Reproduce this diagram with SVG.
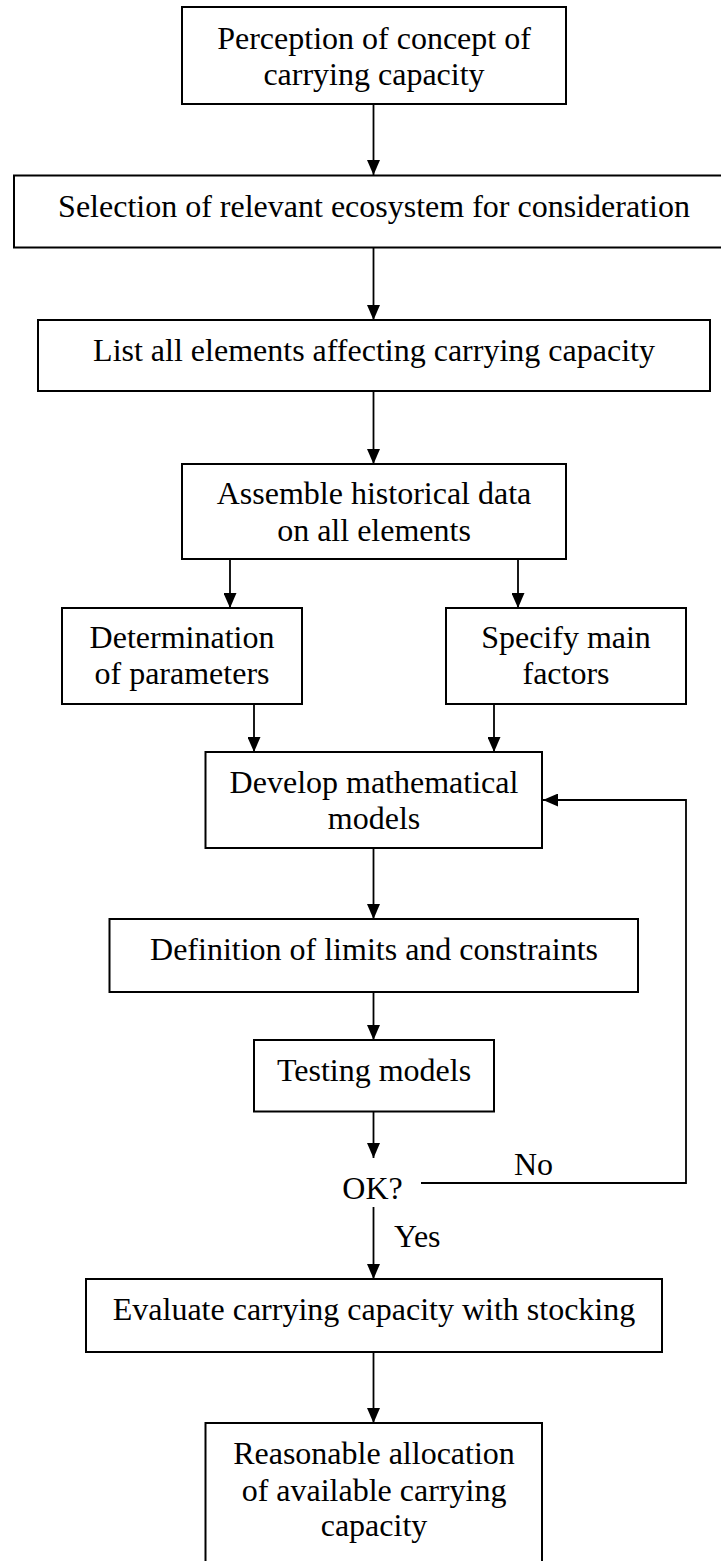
<svg xmlns="http://www.w3.org/2000/svg" width="721" height="1561" viewBox="0 0 721 1561">
<style>
.box{fill:#fff;stroke:#000;stroke-width:2}
.t{font-family:"Liberation Serif","Times New Roman",serif;font-size:32px;fill:#000;text-anchor:middle}
.tl{font-family:"Liberation Serif","Times New Roman",serif;font-size:32px;fill:#000}
.c{fill:none;stroke:#000;stroke-width:1.8}
</style>
<defs>
<marker id="ah" viewBox="0 0 15 13" refX="15" refY="6.5" markerWidth="15" markerHeight="13" markerUnits="userSpaceOnUse" orient="auto">
<path d="M0,0 L15,6.5 L0,13 Z" fill="#000"/>
</marker>
</defs>
<rect width="721" height="1561" fill="#fff"/>
<g id="connectors">
<line class="c" x1="373.5" y1="104" x2="373.5" y2="175" marker-end="url(#ah)"/>
<line class="c" x1="373.5" y1="248" x2="373.5" y2="320" marker-end="url(#ah)"/>
<line class="c" x1="373.5" y1="391" x2="373.5" y2="464" marker-end="url(#ah)"/>
<line class="c" x1="230" y1="559" x2="230" y2="608" marker-end="url(#ah)"/>
<line class="c" x1="518" y1="559" x2="518" y2="608" marker-end="url(#ah)"/>
<line class="c" x1="254" y1="704" x2="254" y2="752" marker-end="url(#ah)"/>
<line class="c" x1="494" y1="704" x2="494" y2="752" marker-end="url(#ah)"/>
<line class="c" x1="373.5" y1="848" x2="373.5" y2="919" marker-end="url(#ah)"/>
<line class="c" x1="373.5" y1="992" x2="373.5" y2="1040" marker-end="url(#ah)"/>
<line class="c" x1="373.5" y1="1112" x2="373.5" y2="1158" marker-end="url(#ah)"/>
<line class="c" x1="373.5" y1="1207" x2="373.5" y2="1279" marker-end="url(#ah)"/>
<line class="c" x1="373.5" y1="1352" x2="373.5" y2="1423" marker-end="url(#ah)"/>
<polyline class="c" points="421,1183 686,1183 686,800 543,800" marker-end="url(#ah)"/>
</g>
<g id="n1"><rect class="box" x="182" y="7" width="384" height="97"/>
<text class="t" x="374" y="49">Perception of concept of</text>
<text class="t" x="374" y="85">carrying capacity</text></g>
<g id="n2"><rect class="box" x="14" y="175.5" width="710" height="72"/>
<text class="t" x="374" y="217">Selection of relevant ecosystem for consideration</text></g>
<g id="n3"><rect class="box" x="38" y="320" width="672" height="71"/>
<text class="t" x="374" y="361">List all elements affecting carrying capacity</text></g>
<g id="n4"><rect class="box" x="182" y="464" width="384" height="95"/>
<text class="t" x="374" y="504">Assemble historical data</text>
<text class="t" x="374" y="541">on all elements</text></g>
<g id="n5"><rect class="box" x="62" y="608" width="240" height="96"/>
<text class="t" x="182" y="648">Determination</text>
<text class="t" x="182" y="684">of parameters</text></g>
<g id="n6"><rect class="box" x="446" y="608" width="240" height="96"/>
<text class="t" x="566" y="648">Specify main</text>
<text class="t" x="566" y="684">factors</text></g>
<g id="n7"><rect class="box" x="205.5" y="752" width="336.5" height="96"/>
<text class="t" x="374" y="793">Develop mathematical</text>
<text class="t" x="374" y="829">models</text></g>
<g id="n8"><rect class="box" x="109.5" y="919" width="528.5" height="73"/>
<text class="t" x="374" y="960">Definition of limits and constraints</text></g>
<g id="n9"><rect class="box" x="254" y="1040" width="240" height="71.5"/>
<text class="t" x="374" y="1080.5">Testing models</text></g>
<g id="n10"><text class="t" x="372.5" y="1199">OK?</text></g>
<g id="lbl-no"><text class="tl" x="514" y="1175">No</text></g>
<g id="lbl-yes"><text class="tl" x="394" y="1246.5">Yes</text></g>
<g id="n11"><rect class="box" x="86" y="1279" width="576" height="73"/>
<text class="t" x="374" y="1320">Evaluate carrying capacity with stocking</text></g>
<g id="n12"><rect class="box" x="205.5" y="1423" width="336.5" height="160"/>
<text class="t" x="374" y="1464">Reasonable allocation</text>
<text class="t" x="374" y="1501">of available carrying</text>
<text class="t" x="374" y="1536">capacity</text></g>
</svg>
